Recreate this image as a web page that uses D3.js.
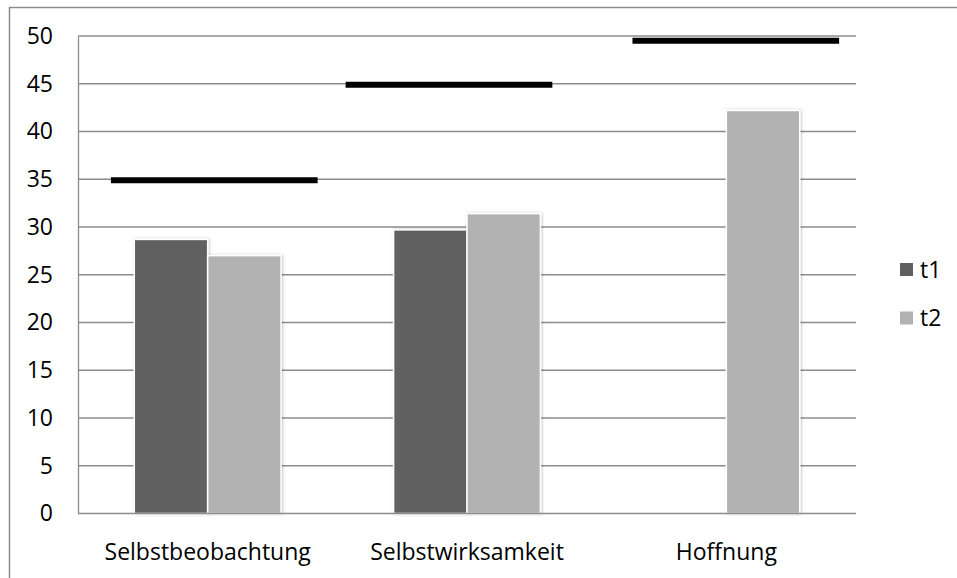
<!DOCTYPE html>
<html>
<head>
<meta charset="utf-8">
<script src="https://cdn.jsdelivr.net/npm/d3@7"></script>
<style>
  html, body { margin: 0; padding: 0; background: #fff; }
  svg { display: block; }
  text { font-family: "Open Sans", "Noto Sans", sans-serif; fill: #000; }
</style>
</head>
<body>
<svg id="chart" width="957" height="578"></svg>
<script>
// ---- data ----
const categories = ["Selbstbeobachtung", "Selbstwirksamkeit", "Hoffnung"];
const seriesNames = ["t1", "t2"];
const t1Values = [28.7, 29.7, null];
const t2Values = [27.0, 31.4, 42.2];
const normValues = [34.9, 44.9, 49.5];
// norm line extents, in category-index units (category i centred at i)
const normStart = [-0.373, 0.532, 1.638];
const normEnd = [0.424, 1.329, 2.435];
const yTicks = [0, 5, 10, 15, 20, 25, 30, 35, 40, 45, 50];
const seriesColors = ["#606060", "#b2b2b2"];

// ---- layout ----
const W = 957, H = 578;
const plot = { left: 78, right: 856, top: 36, bottom: 513.5 };
const FONT = '"Open Sans", sans-serif';
const FS = "23px";

const svg = d3.select("#chart");

// outer frame (left & top edges visible)
svg.append("path")
  .attr("d", `M9.5,${H + 5} L9.5,7.5 L${W + 5},7.5`)
  .attr("fill", "none")
  .attr("stroke", "#8a8a8a")
  .attr("stroke-width", 1.5);

const y = d3.scaleLinear().domain([0, 50]).range([plot.bottom, plot.top]);

const x0 = d3.scaleBand()
  .domain(categories)
  .range([plot.left, plot.right])
  .paddingInner(0.434)
  .paddingOuter(0.217);

const x1 = d3.scaleBand().domain(seriesNames).range([0, x0.bandwidth()]).padding(0);

const catPos = d3.scaleLinear().domain([-0.5, categories.length - 0.5]).range([plot.left, plot.right]);

// gridlines
const grid = svg.append("g").attr("class", "grid");
grid.selectAll("line")
  .data(yTicks.filter(d => d > 0))
  .join("line")
  .attr("x1", plot.left).attr("x2", plot.right)
  .attr("y1", d => y(d)).attr("y2", d => y(d))
  .attr("stroke", "#8c8c8c")
  .attr("stroke-width", 1.3);

// y axis
const yAxis = d3.axisLeft(y).tickValues(yTicks).tickSize(0).tickPadding(25);
const yg = svg.append("g").attr("transform", `translate(${plot.left},0)`).call(yAxis);
yg.select(".domain").attr("stroke", "#8c8c8c").attr("stroke-width", 1.3);
yg.selectAll("text")
  .style("font-family", FONT)
  .style("font-size", FS)
  .attr("fill", "#000");

// shadow filter
const defs = svg.append("defs");
const f = defs.append("filter").attr("id", "shadow").attr("x", "-10%").attr("y", "-10%").attr("width", "120%").attr("height", "120%");
f.append("feDropShadow").attr("dx", 1).attr("dy", 0).attr("stdDeviation", 1.5).attr("flood-color", "#000").attr("flood-opacity", 0.25);

// bars
const rows = categories.map((c, i) => ({ cat: c, vals: [t1Values[i], t2Values[i]] }));
const groups = svg.append("g").selectAll("g")
  .data(rows)
  .join("g")
  .attr("transform", d => `translate(${x0(d.cat)},0)`);

groups.selectAll("rect")
  .data(d => d.vals.map((v, j) => ({ s: seriesNames[j], v, j })).filter(e => e.v != null))
  .join("rect")
  .attr("x", d => x1(d.s))
  .attr("width", x1.bandwidth())
  .attr("y", d => y(d.v))
  .attr("height", d => y(0) - y(d.v))
  .attr("fill", d => seriesColors[d.j])
  .attr("stroke", "#fff")
  .attr("stroke-width", 1.5)
  .attr("filter", "url(#shadow)");

// x axis baseline
svg.append("line")
  .attr("x1", plot.left).attr("x2", plot.right)
  .attr("y1", y(0)).attr("y2", y(0))
  .attr("stroke", "#8c8c8c").attr("stroke-width", 1.3);

// category labels
const xAxis = d3.axisBottom(x0).tickSize(0).tickPadding(30);
const xg = svg.append("g").attr("transform", `translate(0,${y(0)})`).call(xAxis);
xg.select(".domain").remove();
xg.selectAll("text")
  .style("font-family", FONT)
  .style("font-size", FS)
  .attr("fill", "#000");

// norm lines
svg.append("g").selectAll("line")
  .data(normValues.map((v, i) => ({ v, a: normStart[i], b: normEnd[i] })))
  .join("line")
  .attr("x1", d => catPos(d.a)).attr("x2", d => catPos(d.b))
  .attr("y1", d => y(d.v)).attr("y2", d => y(d.v))
  .attr("stroke", "#000")
  .attr("stroke-width", 6);

// legend
const legend = svg.append("g").attr("transform", "translate(900,263)");
const li = legend.selectAll("g").data(seriesNames).join("g")
  .attr("transform", (d, i) => `translate(0,${i * 48.5})`);
li.append("rect").attr("width", 13).attr("height", 13)
  .attr("fill", (d, i) => seriesColors[i]);
li.append("text")
  .attr("x", 20).attr("y", 6.5).attr("dy", "0.35em")
  .style("font-family", FONT)
  .style("font-size", FS)
  .text(d => d);
</script>
</body>
</html>
